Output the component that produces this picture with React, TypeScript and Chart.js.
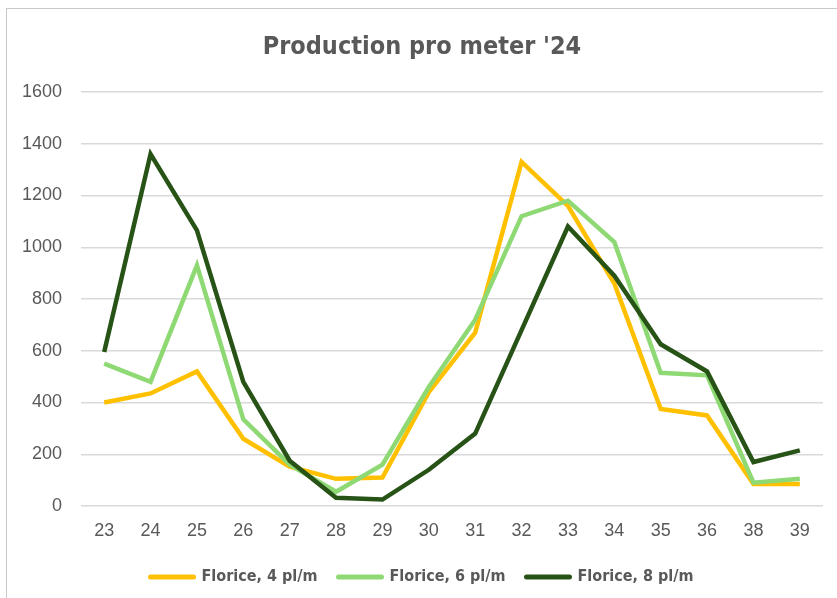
import React, { useEffect, useRef } from "react";
import { Chart, registerables } from "chart.js";

Chart.register(...registerables);

const categories = ["23", "24", "25", "26", "27", "28", "29", "30", "31", "32", "33", "34", "35", "36", "38", "39"];
const florice4 = [400, 435, 520, 260, 152, 105, 110, 440, 670, 1330, 1160, 860, 375, 350, 85, 85];
const florice6 = [550, 480, 930, 335, 160, 55, 160, 460, 720, 1120, 1180, 1020, 515, 505, 90, 105];
const florice8 = [595, 1360, 1065, 480, 175, 32, 25, 140, 280, 680, 1080, 890, 625, 520, 170, 215];
const seriesNames = ["Florice, 4 pl/m", "Florice, 6 pl/m", "Florice, 8 pl/m"];
const seriesColors = ["#FFC000", "#8ED973", "#275317"];
const yTicks = [0, 200, 400, 600, 800, 1000, 1200, 1400, 1600];
const titleText = "Production pro meter '24";

const condensed = "'Liberation Sans Narrow', 'DejaVu Sans Condensed', 'Arial Narrow', sans-serif";
const regular = "'Liberation Sans', Arial, sans-serif";

export default function App() {
  const ref = useRef<HTMLCanvasElement | null>(null);

  useEffect(() => {
    if (!ref.current) return;
    const values = [florice4, florice6, florice8];
    const chart = new Chart(ref.current, {
      type: "line",
      data: {
        labels: categories,
        datasets: values.map((v, i) => ({
          label: seriesNames[i],
          data: v,
          borderColor: seriesColors[i],
          backgroundColor: seriesColors[i],
          borderWidth: 4.5,
          pointRadius: 0,
          pointHoverRadius: 0,
          tension: 0,
          fill: false,
          order: 3 - i,
        })),
      },
      options: {
        responsive: false,
        animation: false,
        events: [],
        layout: { padding: { left: 21, right: 14, top: 10, bottom: 3 } },
        plugins: {
          title: {
            display: true,
            text: titleText,
            color: "#595959",
            font: { family: condensed, size: 25, weight: "bold" },
            padding: { top: 22, bottom: 30 },
          },
          legend: {
            display: true,
            position: "bottom",
            labels: {
              usePointStyle: true,
              pointStyle: "line",
              pointStyleWidth: 43,
              boxHeight: 16,
              padding: 21,
              color: "#595959",
              font: { family: condensed, size: 16, weight: "bold" },
              sort: (a: any, b: any) => a.datasetIndex - b.datasetIndex,
              generateLabels: (c: any) => {
                const items = Chart.defaults.plugins.legend.labels.generateLabels(c);
                return items
                  .map((it: any) => ({ ...it, lineCap: "round", lineWidth: 5, pointStyle: "line" }))
                  .sort((a: any, b: any) => a.datasetIndex - b.datasetIndex);
              },
            },
          },
          tooltip: { enabled: false },
        },
        scales: {
          x: {
            offset: true,
            grid: { display: false, drawTicks: false, offset: true },
            border: { display: false },
            ticks: {
              color: "#595959",
              font: { family: regular, size: 18 },
              padding: 14,
              maxRotation: 0,
              autoSkip: false,
            },
            afterFit: (s: any) => {
              s.height = 42;
            },
          },
          y: {
            min: 0,
            max: 1600,
            afterBuildTicks: (s: any) => {
              s.ticks = yTicks.map((v) => ({ value: v }));
            },
            grid: { color: "#D9D9D9", lineWidth: 1.5, drawTicks: false },
            border: { display: false },
            ticks: {
              color: "#595959",
              font: { family: regular, size: 18 },
              padding: 19,
              callback: (v: any) => String(v),
            },
            afterFit: (s: any) => {
              s.width = 60;
            },
          },
        },
      },
    });
    return () => chart.destroy();
  }, []);

  return (
    <div style={{ position: "fixed", left: 0, top: 0, width: 837, height: 598, overflow: "hidden", background: "#ffffff" }}>
      <div
        style={{
          position: "absolute",
          left: 6,
          top: 8,
          width: 900,
          height: 700,
          borderLeft: "1.5px solid #C8C8C8",
          borderTop: "1.5px solid #C8C8C8",
          boxSizing: "border-box",
        }}
      />
      <canvas ref={ref} width={837} height={598} style={{ position: "absolute", left: 0, top: 0, width: 837, height: 598 }} />
    </div>
  );
}
